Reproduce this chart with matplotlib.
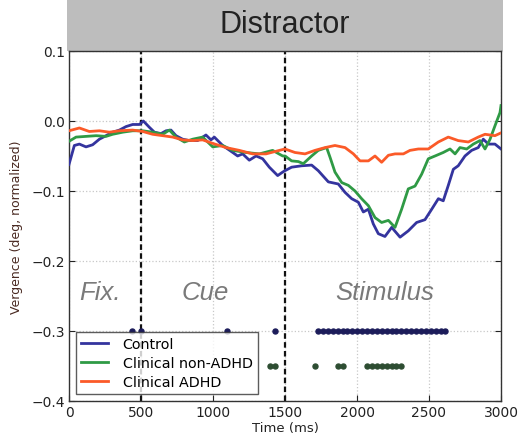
import numpy as np
import matplotlib
matplotlib.use('Agg')
import matplotlib.pyplot as plt
from matplotlib.patches import Rectangle

# mean vergence traces (deg, normalized) for the distractor condition
t_control = [0, 37, 72, 118, 164, 211, 257, 303, 350, 396, 442, 489, 516, 558, 593,
             639, 674, 708, 743, 789, 836, 893, 951, 986, 1009, 1067, 1137, 1171,
             1206, 1252, 1299, 1345, 1391, 1449, 1484, 1500, 1546, 1616, 1685, 1731,
             1801, 1870, 1917, 1963, 2009, 2044, 2079, 2113, 2148, 2194, 2241, 2299,
             2356, 2414, 2472, 2519, 2565, 2599, 2634, 2669, 2703, 2750, 2796, 2842,
             2877, 2912, 2958, 3000]
v_control = [-0.062, -0.035, -0.033, -0.037, -0.034, -0.026, -0.021, -0.016, -0.013,
             -0.008, -0.005, -0.005, 0.000, -0.009, -0.016, -0.018, -0.014, -0.013,
             -0.021, -0.026, -0.028, -0.028, -0.020, -0.027, -0.023, -0.035, -0.045,
             -0.050, -0.047, -0.056, -0.050, -0.054, -0.066, -0.078, -0.073, -0.071,
             -0.066, -0.064, -0.063, -0.071, -0.087, -0.090, -0.102, -0.111, -0.116,
             -0.130, -0.126, -0.147, -0.161, -0.165, -0.152, -0.166, -0.157, -0.145,
             -0.141, -0.126, -0.111, -0.114, -0.092, -0.069, -0.064, -0.050, -0.042,
             -0.038, -0.026, -0.033, -0.033, -0.040]

t_nonadhd = [0, 49, 118, 188, 257, 303, 373, 442, 512, 581, 651, 697, 743, 801, 859,
             928, 998, 1067, 1137, 1229, 1322, 1414, 1484, 1500, 1546, 1593, 1627,
             1685, 1731, 1789, 1813, 1847, 1894, 1940, 1986, 2032, 2079, 2125, 2171,
             2218, 2264, 2310, 2356, 2403, 2449, 2495, 2542, 2599, 2646, 2681, 2715,
             2762, 2808, 2854, 2889, 2924, 2958, 2993, 3000]
v_nonadhd = [-0.029, -0.023, -0.022, -0.021, -0.022, -0.019, -0.016, -0.014, -0.014,
             -0.016, -0.019, -0.013, -0.023, -0.030, -0.026, -0.023, -0.037, -0.035,
             -0.042, -0.045, -0.047, -0.042, -0.050, -0.050, -0.057, -0.058, -0.061,
             -0.050, -0.042, -0.038, -0.052, -0.073, -0.088, -0.092, -0.100, -0.111,
             -0.121, -0.138, -0.145, -0.142, -0.152, -0.126, -0.097, -0.093, -0.076,
             -0.054, -0.050, -0.045, -0.040, -0.047, -0.038, -0.040, -0.033, -0.028,
             -0.040, -0.026, -0.007, 0.012, 0.022]

t_adhd = [0, 72, 141, 211, 280, 350, 442, 512, 581, 651, 720, 789, 859, 928, 998,
          1090, 1183, 1276, 1368, 1461, 1500, 1569, 1639, 1708, 1778, 1847, 1917,
          1975, 2021, 2079, 2125, 2171, 2218, 2264, 2322, 2368, 2426, 2495, 2565,
          2634, 2703, 2773, 2842, 2889, 2958, 3000]
v_adhd = [-0.014, -0.010, -0.015, -0.014, -0.016, -0.014, -0.013, -0.015, -0.019,
          -0.021, -0.023, -0.027, -0.028, -0.027, -0.032, -0.038, -0.042, -0.047,
          -0.047, -0.042, -0.040, -0.045, -0.047, -0.042, -0.038, -0.035, -0.038,
          -0.047, -0.057, -0.057, -0.050, -0.059, -0.049, -0.047, -0.047, -0.042,
          -0.040, -0.040, -0.030, -0.023, -0.028, -0.030, -0.023, -0.019, -0.021,
          -0.017]

# time bins with significant differences (marked as dots)
sig_control = [438, 500, 1097, 1431, 1730, 1764, 1798, 1832, 1866, 1900, 1934, 1968,
               2002, 2036, 2070, 2104, 2138, 2172, 2206, 2240, 2274, 2308, 2342,
               2376, 2410, 2444, 2478, 2512, 2546, 2580, 2614]
sig_nonadhd = [1395, 1429, 1705, 1870, 1904, 2070, 2104, 2138, 2172, 2206, 2240,
               2274, 2308]
sig_level_control = -0.30
sig_level_nonadhd = -0.35

phase_edges = [500, 1500]
phase_names = ['Fix.', 'Cue', 'Stimulus']
phase_x = [215, 944, 2194]

series_labels = ['Control', 'Clinical non-ADHD', 'Clinical ADHD']
colors = ['#34349e', '#2f9a45', '#fb5a28']

plt.rcParams['font.family'] = ['DejaVu Sans']
fig = plt.figure(figsize=(5.24, 4.35), dpi=100)
ax = fig.add_axes([0.1317, 0.0759, 0.8244, 0.8046])

for tt, vv, c, lab in zip([t_control, t_nonadhd, t_adhd],
                          [v_control, v_nonadhd, v_adhd], colors, series_labels):
    ax.plot(tt, vv, color=c, lw=2.0, label=lab, zorder=3)

ax.plot(sig_control, [sig_level_control] * len(sig_control), 'o', ms=3.6,
        color='#1c1c5a', mec='#1c1c5a', zorder=4)
ax.plot(sig_nonadhd, [sig_level_nonadhd] * len(sig_nonadhd), 'o', ms=3.6,
        color='#2d4d32', mec='#2d4d32', zorder=4)

for xe in phase_edges:
    ax.axvline(xe, color='#111111', ls='--', lw=1.6, dashes=(2.5, 1.5), zorder=2)

for name, xp in zip(phase_names, phase_x):
    ax.text(xp, -0.245, name, ha='center', va='center', fontsize=18.5,
            style='italic', color='#7a7a7a', family='Liberation Sans')

ax.set_xlim(0, 3000)
ax.set_ylim(-0.4, 0.1)
ax.set_xticks([0, 500, 1000, 1500, 2000, 2500, 3000])
ax.set_yticks([-0.4, -0.3, -0.2, -0.1, 0.0, 0.1])
ax.set_yticklabels(['\u22120.4', '\u22120.3', '\u22120.2', '\u22120.1', '0.0', '0.1'])
ax.tick_params(direction='in', length=4, labelsize=10, colors='#222222', pad=3)
ax.tick_params(top=False, right=True)
ax.grid(True, color='#c8c8c8', ls=':', lw=0.9, zorder=0)
ax.set_axisbelow(True)
for sp in ax.spines.values():
    sp.set_color('#333333')
    sp.set_linewidth(1.0)

ax.set_xlabel('Time (ms)', fontsize=9.5, color='#222222', labelpad=1)
ax.set_ylabel('Vergence (deg, normalized)', fontsize=9, color='#4a2a22', labelpad=6)

leg = ax.legend(loc='lower left', fontsize=10.3, frameon=True, fancybox=False,
                handlelength=1.9, handletextpad=1.0, borderpad=0.35,
                labelspacing=0.35, borderaxespad=0.5)
leg.get_frame().set_edgecolor('#333333')
leg.get_frame().set_linewidth(1.0)
leg.set_zorder(5)

# gray title band above the axes
band_h = 0.152
ax.add_patch(Rectangle((-0.004, 1.0), 1.008, band_h, transform=ax.transAxes,
                       facecolor='#bdbdbd', edgecolor='none', clip_on=False, zorder=1))
ax.text(0.5, 1.0 + band_h / 2, 'Distractor', transform=ax.transAxes, ha='center',
        va='center', fontsize=22, color='#222222', family='Liberation Sans')

fig.savefig('out.png', dpi=100)
